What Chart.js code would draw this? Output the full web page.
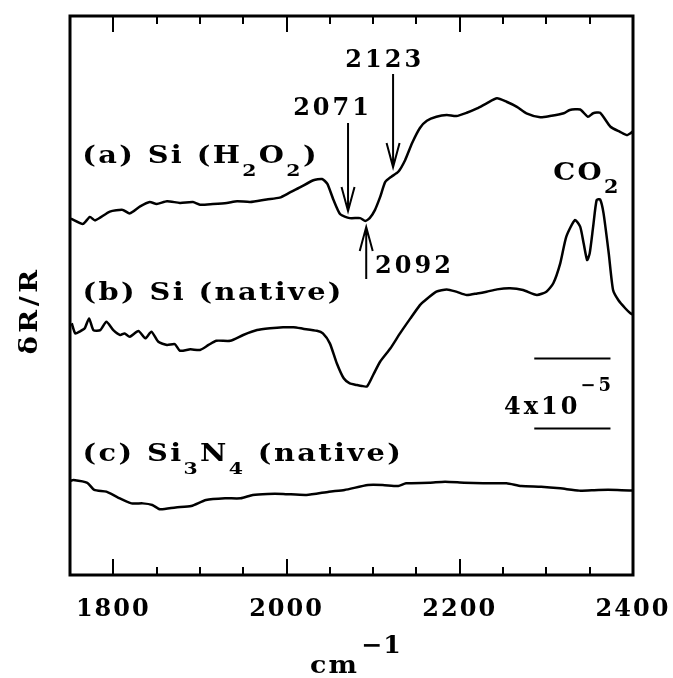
<!DOCTYPE html>
<html><head><meta charset="utf-8">
<script src="https://cdn.jsdelivr.net/npm/chart.js@4.4.1/dist/chart.umd.min.js"></script>
<style>html,body{margin:0;padding:0;background:#fff;}canvas{display:block;}</style>
</head><body>
<canvas id="c" width="673" height="678"></canvas>
<script>
// ---- data (wavenumber in cm^-1, signal in units of 1e-5, traces offset) ----
const waveA = [1751,1765,1773,1779,1796,1811,1819,1831,1842,1850,1862,1877,1892,1900,1915,1931,1943,1958,1977,1992,2004,2016,2031,2041,2047,2054,2062,2073,2085,2091,2096,2102,2108,2114,2121,2129,2137,2145,2154,2162,2173,2185,2196,2208,2220,2231,2243,2254,2266,2277,2293,2304,2320,2327,2339,2348,2354,2362,2374,2385,2393,2397,2400];
const sigA  = [20.4,20.1,20.5,20.3,20.8,20.9,20.7,21.1,21.35,21.24,21.4,21.3,21.35,21.2,21.24,21.3,21.4,21.35,21.5,21.6,21.9,22.2,22.6,22.67,22.4,21.5,20.65,20.43,20.43,20.27,20.43,20.89,21.63,22.5,22.8,23.08,23.76,24.73,25.59,26.0,26.23,26.33,26.27,26.46,26.71,27.0,27.29,27.09,26.8,26.43,26.2,26.27,26.43,26.62,26.65,26.23,26.43,26.46,25.66,25.37,25.18,25.28,25.4];

const waveB = [1752,1756,1761,1767,1772,1777,1785,1792,1800,1808,1813,1819,1829,1837,1844,1852,1862,1871,1877,1889,1900,1910,1919,1935,1950,1966,1981,1996,2008,2019,2035,2042,2050,2058,2066,2073,2081,2087,2093,2100,2108,2120,2131,2143,2154,2158,2173,2185,2196,2208,2220,2231,2243,2258,2273,2289,2300,2308,2316,2323,2333,2339,2343,2347,2350,2354,2358,2362,2366,2372,2377,2383,2391,2397,2400];
const sigB  = [14.41,13.83,13.93,14.12,14.69,14.02,14.02,14.5,14.02,13.74,13.83,13.64,13.97,13.55,13.93,13.35,13.17,13.22,12.84,12.92,12.88,13.17,13.41,13.41,13.74,14.02,14.12,14.18,14.18,14.1,13.98,13.83,13.26,12.12,11.26,10.97,10.88,10.82,10.8,11.45,12.21,12.98,13.83,14.69,15.45,15.64,16.22,16.35,16.22,16.03,16.12,16.22,16.35,16.41,16.31,16.03,16.22,16.7,17.84,19.37,20.32,19.94,18.99,18.03,18.41,19.94,21.46,21.5,20.7,18.41,16.31,15.74,15.27,14.98,14.9];

const waveC = [1751,1754,1770,1778,1792,1805,1821,1834,1845,1854,1872,1890,1907,1929,1947,1961,1978,1996,2023,2049,2067,2094,2111,2129,2138,2165,2183,2205,2227,2254,2271,2294,2316,2338,2360,2382,2400];
const sigC  = [5.4,5.44,5.28,4.87,4.77,4.45,4.1,4.1,4.01,3.76,3.87,3.95,4.29,4.39,4.39,4.58,4.64,4.64,4.58,4.77,4.87,5.15,5.15,5.09,5.25,5.28,5.34,5.28,5.25,5.25,5.09,5.05,4.96,4.83,4.87,4.87,4.83];

const xTickValues = [1800, 2000, 2200, 2400];
const xTickLabels = ['1800', '2000', '2200', '2400'];

// text annotations (parts: [text, mode]  mode 0 normal, 1 subscript, 2 superscript)
const curveLabels = [
  { parts: [['(a) Si (H',0],['2',1],['O',0],['2',1],[')',0]], x: 1764, y: 23.57 },
  { parts: [['(b) Si (native)',0]], x: 1764.5, y: 15.74 },
  { parts: [['(c) Si',0],['3',1],['N',0],['4',1],[' (native)',0]], x: 1764.5, y: 6.53 }
];
const peakLabels = [
  { parts: [['2123',0]], x: 2113.4, y: 29.1, align: 'center' },
  { parts: [['2071',0]], x: 2053.1, y: 26.33, align: 'center' },
  { parts: [['2092',0]], x: 2102.2, y: 17.27, align: 'left' }
];
const gasLabel = { parts: [['CO',0],['2',1]], x: 2308, y: 22.61 };
const arrows = [ // x, tail y, tip y
  { x: 2071, from: 25.87, to: 20.84 },
  { x: 2123, from: 28.68, to: 23.35 },
  { x: 2092, from: 16.94, to: 19.92 }
];
const scaleBar = { x0: 2286, x1: 2374, yLow: 8.43, yHigh: 12.43 };
const scaleText = { parts: [['4x10',0],['\u22125',2]], x: 2251.2, y: 9.22 };

// ---- styling ----
const FAM = '"DejaVu Serif"';
const FS = 24;

function font(size) { return 'bold ' + size + 'px ' + FAM; }

function drawRich(ctx, parts, x, y, o) {
  o = Object.assign({ align: 'left', size: FS, ls: 3, sx: 1, subDrop: 13, supRise: 23, supScale: 0.75 }, o || {});
  ctx.save();
  ctx.letterSpacing = o.ls + 'px';
  ctx.textBaseline = 'alphabetic';
  ctx.textAlign = 'left';
  const items = parts.map(([t, m]) => {
    const s = m === 0 ? o.size : Math.round(o.size * o.supScale);
    ctx.font = font(s);
    return { t, m, s, w: ctx.measureText(t).width * o.sx };
  });
  const total = items.reduce((a, b) => a + b.w, 0);
  let cx = o.align === 'center' ? x - total / 2 : (o.align === 'right' ? x - total : x);
  for (const it of items) {
    ctx.font = font(it.s);
    const dy = it.m === 1 ? o.subDrop : (it.m === 2 ? -o.supRise : 0);
    ctx.fillStyle = '#000';
    ctx.save();
    ctx.translate(cx, y + dy);
    ctx.scale(o.sx, 1);
    ctx.fillText(it.t, 0, 0);
    ctx.restore();
    cx += it.w;
  }
  ctx.restore();
}

const deco = {
  id: 'deco',
  beforeDraw(chart) { chart.ctx.letterSpacing = '2px'; },
  afterDraw(chart) {
    const ctx = chart.ctx, a = chart.chartArea;
    const xs = chart.scales.x, ys = chart.scales.y;
    ctx.save();
    ctx.letterSpacing = '0px';
    ctx.strokeStyle = '#000';
    // tick marks (inward, top and bottom)
    ctx.lineWidth = 2;
    ctx.lineCap = 'butt';
    xs.ticks.forEach(t => {
      const px = Math.round(xs.getPixelForValue(t.value));
      const len = xTickValues.includes(t.value) ? 16 : 8;
      ctx.beginPath();
      ctx.moveTo(px, a.bottom); ctx.lineTo(px, a.bottom - len);
      ctx.moveTo(px, a.top); ctx.lineTo(px, a.top + len);
      ctx.stroke();
    });
    // frame
    ctx.lineWidth = 3;
    ctx.strokeRect(a.left, a.top, a.right - a.left, a.bottom - a.top);
    // arrows
    ctx.lineWidth = 2;
    arrows.forEach(ar => {
      const px = xs.getPixelForValue(ar.x);
      const y0 = ys.getPixelForValue(ar.from), y1 = ys.getPixelForValue(ar.to);
      const dir = y1 > y0 ? 1 : -1;
      ctx.beginPath();
      ctx.moveTo(px, y0); ctx.lineTo(px, y1);
      ctx.moveTo(px - 6.5, y1 - dir * 24); ctx.lineTo(px, y1); ctx.lineTo(px + 6.5, y1 - dir * 24);
      ctx.stroke();
    });
    // scale bar
    ctx.lineWidth = 2;
    [scaleBar.yLow, scaleBar.yHigh].forEach(v => {
      const py = Math.round(ys.getPixelForValue(v)) + 0.5;
      ctx.beginPath();
      ctx.moveTo(xs.getPixelForValue(scaleBar.x0), py);
      ctx.lineTo(xs.getPixelForValue(scaleBar.x1), py);
      ctx.stroke();
    });
    ctx.restore();
    // labels
    curveLabels.forEach(l => drawRich(ctx, l.parts, xs.getPixelForValue(l.x), ys.getPixelForValue(l.y), { ls: 2, sx: 1.2, supScale: 0.72 }));
    peakLabels.forEach(l => drawRich(ctx, l.parts, xs.getPixelForValue(l.x), ys.getPixelForValue(l.y), { align: l.align, ls: 3 }));
    drawRich(ctx, gasLabel.parts, xs.getPixelForValue(gasLabel.x), ys.getPixelForValue(gasLabel.y), { ls: 2, sx: 1.15 });
    drawRich(ctx, scaleText.parts, xs.getPixelForValue(scaleText.x), ys.getPixelForValue(scaleText.y), { ls: 3 });
    // axis titles
    drawRich(ctx, [['cm',0]], 310, 673, { ls: 2, sx: 1.12 });
    drawRich(ctx, [['\u22121',0]], 361, 653, { ls: 1, sx: 1.05 });
    ctx.save();
    ctx.translate(37, (a.top + a.bottom) / 2 + 15);
    ctx.rotate(-Math.PI / 2);
    drawRich(ctx, [['\u03b4R/R',0]], 0, 0, { align: 'center', ls: 3, sx: 1.15 });
    ctx.restore();
  }
};

new Chart(document.getElementById('c'), {
  type: 'line',
  data: {
    datasets: [
      { data: waveA.map((w, i) => ({ x: w, y: sigA[i] })) },
      { data: waveB.map((w, i) => ({ x: w, y: sigB[i] })) },
      { data: waveC.map((w, i) => ({ x: w, y: sigC[i] })) }
    ].map(d => Object.assign(d, { borderColor: '#000', borderWidth: 2.5, pointRadius: 0, tension: 0.2, fill: false }))
  },
  options: {
    responsive: false,
    animation: false,
    devicePixelRatio: 1,
    layout: { padding: { left: 70, right: 40, top: 16, bottom: 0 } },
    plugins: { legend: { display: false }, tooltip: { enabled: false }, title: { display: false } },
    scales: {
      x: {
        type: 'linear', min: 1750, max: 2400,
        grid: { display: false }, border: { display: false },
        ticks: {
          stepSize: 50, autoSkip: false, maxRotation: 0, padding: 12,
          color: '#000', font: { family: 'DejaVu Serif', weight: 'bold', size: 24 },
          callback: v => { const i = xTickValues.indexOf(v); return i >= 0 ? xTickLabels[i] : ''; }
        },
        afterFit: s => { s.height = 103; s.paddingLeft = 0; s.paddingRight = 0; }
      },
      y: { display: false, min: 0, max: 32 }
    }
  },
  plugins: [deco]
});
</script>
</body></html>
